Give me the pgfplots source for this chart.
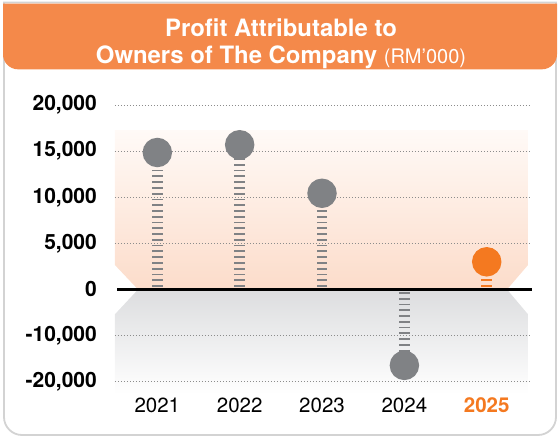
\documentclass[border=0pt]{standalone}
\usepackage{pgfplots}
\pgfplotsset{compat=1.18}
\usepackage{fontspec}
\setmainfont{TeX Gyre Heros}
\definecolor{hdr}{HTML}{F4894A}
\definecolor{dotorange}{HTML}{F47920}
\definecolor{markgray}{HTML}{808285}
\definecolor{bordergray}{HTML}{D3D3D3}
\definecolor{peachtop}{HTML}{FFFAF7}
\definecolor{peachbot}{HTML}{FCDCCA}
\definecolor{graytop}{HTML}{DCDDDF}
\definecolor{gridc}{HTML}{8C8C8C}
\begin{document}
\begin{tikzpicture}[x=1pt,y=1pt]
\useasboundingbox (0pt,0pt) rectangle (558pt,-437pt);
% outer frame
\draw[line width=1.8pt, bordergray] (4pt,-2.5pt) -- (4pt,-417pt) arc[start angle=180,end angle=270,radius=18pt] -- (538pt,-435pt) arc[start angle=270,end angle=360,radius=18pt] -- (556pt,-2.5pt) -- cycle;
% header
\fill[hdr] (3pt,-3.5pt) -- (3pt,-54.3pt) arc[start angle=180,end angle=270,radius=15pt] -- (542pt,-69.3pt) arc[start angle=270,end angle=360,radius=15pt] -- (557pt,-3.5pt) -- cycle;
\node[anchor=base, text=white, inner sep=0pt] at (281pt,-36.7pt) {\fontsize{23.9}{24}\selectfont\bfseries Profit Attributable to};
\node[anchor=base, text=white, inner sep=0pt] at (281pt,-63.3pt) {\fontsize{23.9}{24}\selectfont\bfseries Owners of The Company \fontsize{20}{20}\selectfont\mdseries (RM’000)};
\begin{axis}[
  at={(115pt,-381.7pt)}, anchor=south west,
  scale only axis, width=416.7pt, height=276.7pt,
  xmin=-0.514, xmax=4.546, ymin=-10000, ymax=20000,
  clip=false,
  axis line style={draw=none}, major tick length=0pt,
  xtick={0,1,2,3,4},
  xticklabels={2021,2022,2023,2024,{\textcolor{dotorange}{\bfseries 2025}}},
  ytick={-10000,-5000,0,5000,10000,15000,20000},
  yticklabels={{-20,000},{-10,000},0,{5,000},{10,000},{15,000},{20,000}},
  yticklabel style={font=\fontsize{21}{21}\selectfont\bfseries, anchor=east, inner sep=0pt, xshift=-18pt},
  xticklabel style={font=\fontsize{20.5}{20.5}\selectfont, anchor=north, inner sep=0pt, yshift=-15.8pt},
  /pgf/number format/assume math mode=true,
  scaled y ticks=false,
  y filter/.expression={y<0 ? y/2 : y},
]
\shade[top color=peachtop, bottom color=peachbot] (axis cs:-0.514,17280) -- (axis cs:4.50,17280) -- (axis cs:4.50,2640) -- (axis cs:4.246,0) -- (axis cs:-0.234,0) -- (axis cs:-0.514,2640) -- cycle;
\shade[top color=graytop, bottom color=white] (axis cs:-0.234,0) -- (axis cs:4.246,0) -- (axis cs:4.50,-2680) -- (axis cs:4.50,-11350) -- (axis cs:-0.514,-11350) -- (axis cs:-0.514,-2680) -- cycle;
\pgfplotsinvokeforeach{-10000,-5000,5000,10000,15000,20000}{
  \draw[gridc, line width=0.8pt, dash pattern=on 0.8pt off 2.2pt] (axis cs:-0.514,#1) -- (axis cs:4.546,#1);
}
\draw[black, line width=2.3pt] (axis cs:-0.489,0) -- (axis cs:4.546,0);
\addplot[ycomb, color=markgray, line width=10.7pt, dash pattern=on 1.8pt off 3.97pt, dash phase=3.17pt,
  mark=*, mark size=9.3pt, mark options={solid, draw=none, fill=markgray}]
  coordinates {(0,14850) (1,15690) (2,10430) (3,-16460)};
\addplot[ycomb, color=dotorange, line width=10.7pt, dash pattern=on 1.8pt off 3.97pt, dash phase=3.17pt,
  mark=*, mark size=9.3pt, mark options={solid, draw=none, fill=dotorange}]
  coordinates {(4,3000)};
\end{axis}
\end{tikzpicture}
\end{document}
